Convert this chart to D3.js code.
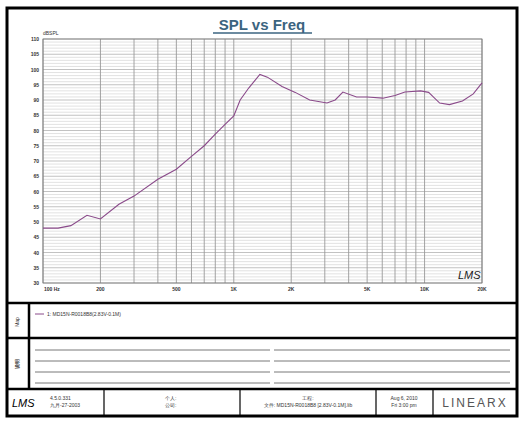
<!DOCTYPE html>
<html><head><meta charset="utf-8">
<script src="https://cdn.jsdelivr.net/npm/d3@7"></script>
<style>body{margin:0;background:#fff}text{font-family:"Liberation Sans",Arial,sans-serif}</style>
</head><body><svg id="c" width="525" height="424"></svg>
<script>
// frequency response
var freqs = [100,120,140,170,200,250,300,400,500,600,700,800,900,1000,1080,1200,1370,1500,1790,2100,2500,3080,3400,3730,4400,5000,6050,7000,7890,9530,10500,12000,13500,15800,18000,20000];
var spl   = [48,48,48.8,52.2,51,55.8,58.5,64,67.3,71.5,75,78.8,82,84.8,90,94,98.4,97.5,94.4,92.5,90,89,90,92.6,91,91,90.6,91.5,92.6,93,92.5,89,88.5,89.7,92,95.6];
var xTicks = [100,200,500,1000,2000,5000,10000,20000];
var xTickLabels = ["100  Hz","200","500","1K","2K","5K","10K","20K"];
var gridFreqs = [100,200,300,400,500,600,700,800,900,1000,2000,3000,4000,5000,6000,7000,8000,9000,10000,20000];

var svg = d3.select('#c');
var x = d3.scaleLog().domain([100,20000]).range([43,482]);
var y = d3.scaleLinear().domain([30,110]).range([283,39]);

// frames
svg.append('rect').attr('x',7).attr('y',8).attr('width',510).attr('height',408).attr('fill','none').attr('stroke','#000').attr('stroke-width',3);
[303,338,389].forEach(function (yy) {
    svg.append('line').attr('x1',7).attr('x2',517).attr('y1',yy).attr('y2',yy).attr('stroke','#000').attr('stroke-width',2.5);
});
svg.append('line').attr('x1',29).attr('x2',29).attr('y1',303).attr('y2',389).attr('stroke','#000').attr('stroke-width',2.5);
[104,240,376,433].forEach(function (xx) {
    svg.append('line').attr('x1',xx).attr('x2',xx).attr('y1',389).attr('y2',416).attr('stroke','#000').attr('stroke-width',1.2);
});

svg.append('text').attr('x',262).attr('y',30).attr('text-anchor','middle').attr('font-size',15).attr('font-weight','bold').attr('fill','#3b6480').text('SPL vs Freq');
svg.append('line').attr('x1',213).attr('x2',312).attr('y1',33).attr('y2',33).attr('stroke','#3b6480').attr('stroke-width',1.5);

// grid
var g = svg.append('g');
d3.range(30,111,1).forEach(function (v) {
    g.append('line').attr('x1',43).attr('x2',482).attr('y1',y(v)).attr('y2',y(v))
        .attr('stroke', v % 5 === 0 ? '#999' : '#ccc').attr('stroke-width',0.6);
});
gridFreqs.forEach(function (f) {
    g.append('line').attr('x1',x(f)).attr('x2',x(f)).attr('y1',39).attr('y2',283).attr('stroke','#999').attr('stroke-width',0.9);
});
g.append('rect').attr('x',43).attr('y',39).attr('width',439).attr('height',244).attr('fill','none').attr('stroke','#777').attr('stroke-width',0.8);

d3.range(30,111,5).forEach(function (v) {
    svg.append('text').attr('x',39).attr('y',y(v)+2).attr('text-anchor','end').attr('font-size',5).attr('font-weight','bold').attr('fill','#333').text(v);
});
svg.append('text').attr('x',43).attr('y',35).attr('font-size',5).attr('fill','#333').text('dBSPL');
xTicks.forEach(function (f, i) {
    svg.append('text').attr('x', x(f) + (i === 0 ? 1 : 0)).attr('y',291).attr('text-anchor', i === 0 ? 'start' : 'middle')
        .attr('font-size',5).attr('font-weight','bold').attr('fill','#333').text(xTickLabels[i]);
});
svg.append('text').attr('x',458).attr('y',279).attr('font-size',11).attr('font-style','italic').attr('font-family','DejaVu Serif').attr('fill','#222').text('LMS');

// curve
var line = d3.line().x(function (d, i) { return x(freqs[i]); }).y(function (d) { return y(d); });
svg.append('path').datum(spl).attr('d',line).attr('fill','none').attr('stroke','#8a4a8a').attr('stroke-width',1.1);

// legend panel
svg.append('line').attr('x1',35).attr('x2',44).attr('y1',314).attr('y2',314).attr('stroke','#8a4a8a');
svg.append('text').attr('x',47).attr('y',316).attr('font-size',5).attr('fill','#333').text('1: MD15N-R0018B8(2.83V-0.1M)');
svg.append('text').attr('transform','translate(19,322) rotate(-90)').attr('text-anchor','middle').attr('font-size',5).attr('fill','#333').text('Map');
svg.append('text').attr('transform','translate(19,364) rotate(-90)').attr('text-anchor','middle').attr('font-size',5).attr('font-weight','bold').attr('fill','#333').text('说明');
[350,361,372,383].forEach(function (yy) {
    svg.append('line').attr('x1',35).attr('x2',270).attr('y1',yy).attr('y2',yy).attr('stroke','#555').attr('stroke-width',0.8);
    svg.append('line').attr('x1',274).attr('x2',510).attr('y1',yy).attr('y2',yy).attr('stroke','#555').attr('stroke-width',0.8);
});

// footer
svg.append('text').attr('x',12).attr('y',407).attr('font-size',11).attr('font-style','italic').attr('font-family','DejaVu Serif').text('LMS');
svg.append('text').attr('x',50).attr('y',400).attr('font-size',5).attr('fill','#333').text('4.5.0.331');
svg.append('text').attr('x',50).attr('y',407).attr('font-size',5).attr('fill','#333').text('九月-27-2003');
svg.append('text').attr('x',165).attr('y',400).attr('font-size',5).attr('fill','#333').text('个人:');
svg.append('text').attr('x',165).attr('y',407).attr('font-size',5).attr('fill','#333').text('公司:');
svg.append('text').attr('x',308).attr('y',400).attr('text-anchor','middle').attr('font-size',5).attr('fill','#333').text('工程:');
svg.append('text').attr('x',308).attr('y',407).attr('text-anchor','middle').attr('font-size',5).attr('fill','#333').text('文件: MD15N-R0018B8 [2.83V-0.1M].lib');
svg.append('text').attr('x',404).attr('y',400).attr('text-anchor','middle').attr('font-size',5).attr('fill','#333').text('Aug 6, 2010');
svg.append('text').attr('x',404).attr('y',407).attr('text-anchor','middle').attr('font-size',5).attr('fill','#333').text('Fri 3:00 pm');
svg.append('text').attr('x',475).attr('y',407).attr('text-anchor','middle').attr('font-size',12).attr('font-family','DejaVu Serif').attr('letter-spacing',2).attr('fill','#555').text('LINEARX');
</script></body></html>
